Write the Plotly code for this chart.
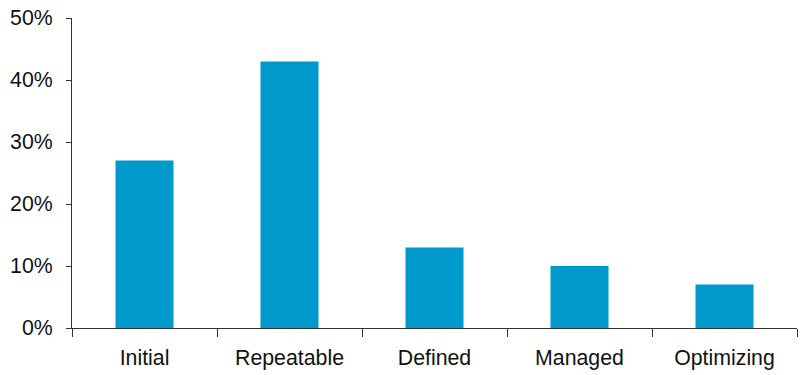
import plotly.graph_objects as go

categories = ["Initial", "Repeatable", "Defined", "Managed", "Optimizing"]
shares = [0.27, 0.43, 0.13, 0.10, 0.07]
y_ticks = [0, 0.1, 0.2, 0.3, 0.4, 0.5]
y_tick_labels = ["0%", "10%", "20%", "30%", "40%", "50%"]

fig = go.Figure(
    go.Bar(x=categories, y=shares, marker=dict(color="#0099CC", line=dict(width=0)), width=0.4)
)

font = dict(family="Liberation Sans, Arial, sans-serif", size=21.3, color="#111111")

fig.update_layout(
    width=801, height=375,
    margin=dict(l=72, r=4, t=18, b=47),
    paper_bgcolor="white", plot_bgcolor="white",
    showlegend=False,
    font=font,
    bargap=0.6,
)
fig.update_xaxes(
    type="category",
    showline=True, linecolor="#333333", linewidth=1,
    ticks="outside", tickson="boundaries", ticklen=8, tickcolor="#333333",
    showgrid=False, zeroline=False,
    ticklabelstandoff=10,
    tickfont=font,
)
fig.update_yaxes(
    range=[0, 0.5],
    tickvals=y_ticks, ticktext=y_tick_labels,
    showline=True, linecolor="#333333", linewidth=1,
    ticks="outside", ticklen=5, tickcolor="#333333",
    showgrid=False, zeroline=False,
    ticklabelstandoff=9,
    tickfont=font,
)

fig.write_html("out.html")
